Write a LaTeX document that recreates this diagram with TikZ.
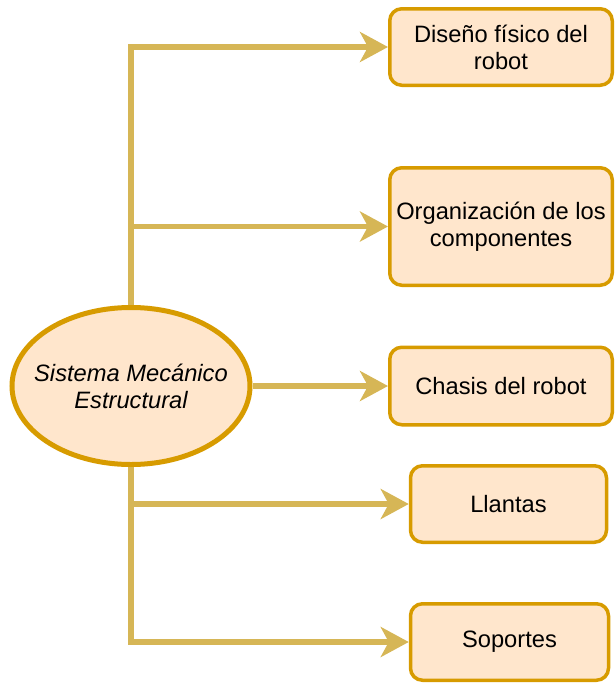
\documentclass[tikz,border=0pt]{standalone}
\usepackage{fontspec}
\setmainfont{Liberation Sans}
\usetikzlibrary{shapes.geometric,arrows.meta}
\definecolor{boxfill}{HTML}{FFE6CC}
\definecolor{boxline}{HTML}{D79B00}
\definecolor{connline}{HTML}{D6B656}
\begin{document}
\begin{tikzpicture}[x=1pt,y=-1pt,
  topic/.style={draw=boxline, fill=boxfill, line width=3.5pt, rounded corners=12pt,
    align=center, inner sep=0pt, font=\fontsize{23.7}{27}\selectfont},
  hub/.style={ellipse, draw=boxline, fill=boxfill, line width=5pt, inner xsep=-20pt, inner ysep=0pt,
    minimum width=238pt, minimum height=157pt, align=center,
    font=\fontsize{23.7}{27}\selectfont\itshape},
  conn/.style={draw=connline, line width=5.5pt,
    -{Stealth[length=28pt,width=30pt,inset=8pt]}}]
\useasboundingbox (0,0) rectangle (616,683);
\node[hub] (e) at (131,386) {Sistema Mecánico\\Estructural};
\node[topic, minimum width=222.5pt, minimum height=76.5pt] (b1) at (501,47) {Diseño físico del\\robot};
\node[topic, minimum width=222.5pt, minimum height=117.5pt] (b2) at (501,226.5) {Organización de los\\componentes};
\node[topic, minimum width=222.5pt, minimum height=77.5pt] (b3) at (501,386) {Chasis del robot};
\node[topic, minimum width=196pt, minimum height=76.5pt] (b4) at (508.5,504) {Llantas};
\node[topic, minimum width=198pt, minimum height=76.5pt] (b5) at (509.5,642) {Soportes};
\draw[conn] (e.north) |- (b1.west);
\draw[conn] (e.north) |- (b2.west);
\draw[conn] (e.east) -- (b3.west);
\draw[conn] (e.south) |- (b4.west);
\draw[conn] (e.south) |- (b5.west);
\end{tikzpicture}
\end{document}
